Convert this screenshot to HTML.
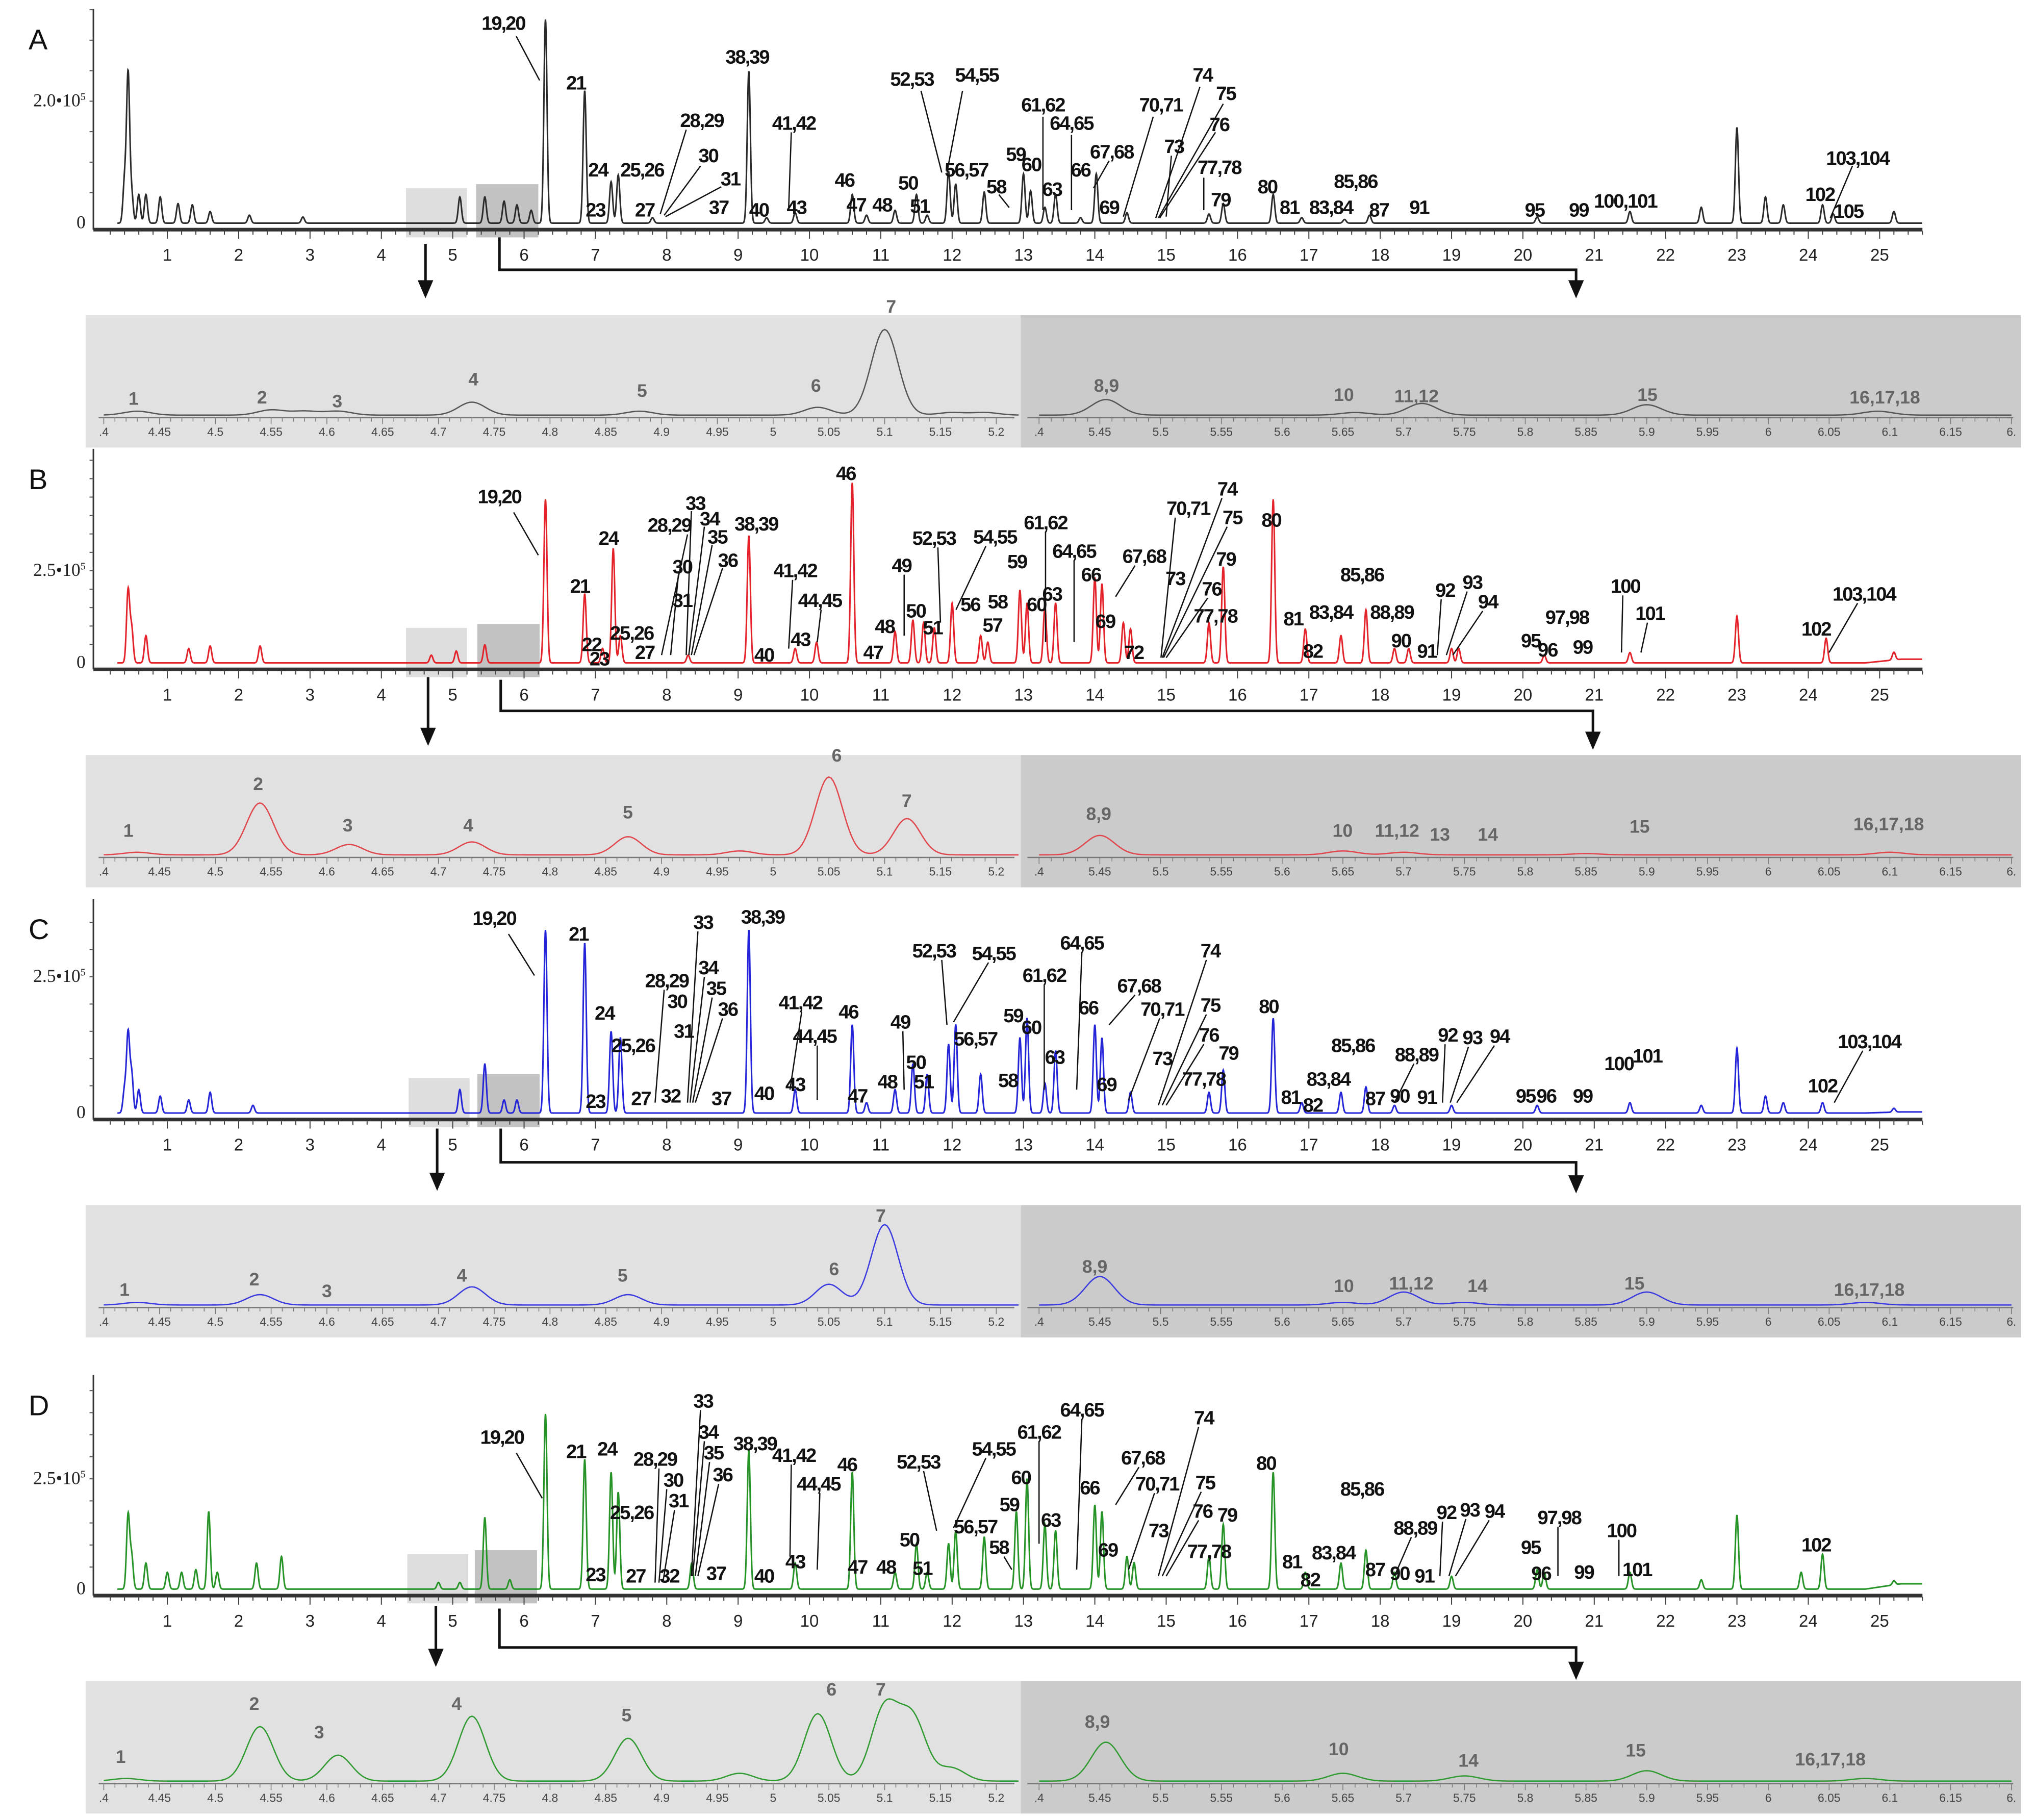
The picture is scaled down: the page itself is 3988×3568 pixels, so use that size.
<!DOCTYPE html>
<html><head><meta charset="utf-8"><style>
html,body{margin:0;padding:0;background:#fff;}
svg{display:block;}
.lbl{font-family:"Liberation Sans",sans-serif;font-weight:bold;font-size:15px;fill:#111;letter-spacing:-0.8px;}
.ilbl{font-family:"Liberation Sans",sans-serif;font-size:14px;fill:#666;font-weight:bold;}
.tick{font-family:"Liberation Sans",sans-serif;font-size:13px;fill:#222;}
.itick{font-family:"Liberation Sans",sans-serif;font-size:9px;fill:#444;}
.ylab{font-family:"Liberation Serif",serif;font-size:14px;fill:#222;}
.plet{font-family:"Liberation Sans",sans-serif;font-size:22px;fill:#111;}
</style></head><body>
<svg id="fig" width="3988" height="3568" viewBox="0 0 1568 1403" preserveAspectRatio="none" xmlns="http://www.w3.org/2000/svg"></svg>
<script>
// ---------- data: main chromatograms (time min, intensity x10^5) ----------
const aTimes=[0.4,0.45,0.5,0.6,0.7,0.9,1.15,1.35,1.6,2.15,2.9,5.1,5.45,5.72,5.9,6.1,6.3,6.85,7.22,7.32,7.8,9.15,9.4,9.8,10.6,10.8,11.2,11.5,11.65,11.95,12.05,12.45,13.0,13.1,13.3,13.45,13.8,14.02,14.45,15.6,15.8,16.5,16.9,17.5,17.85,20.2,21.5,22.5,23.0,23.4,23.65,24.2,24.35,25.2];
const aHeights=[0.68,2.43,0.47,0.47,0.47,0.43,0.32,0.3,0.19,0.13,0.1,0.43,0.43,0.36,0.3,0.21,3.34,2.17,0.68,0.79,0.09,2.49,0.09,0.17,0.47,0.13,0.21,0.47,0.13,0.85,0.64,0.51,0.81,0.53,0.26,0.47,0.09,0.81,0.17,0.15,0.32,0.47,0.09,0.06,0.13,0.1,0.19,0.26,1.57,0.43,0.3,0.3,0.15,0.19];
const bTimes=[0.45,0.5,0.7,1.3,1.6,2.3,4.7,5.05,5.45,6.3,6.85,7.1,7.25,7.35,8.3,9.15,9.8,10.1,10.6,11.2,11.45,11.6,11.75,12.0,12.4,12.5,12.95,13.05,13.3,13.45,14.0,14.1,14.4,14.5,15.6,15.8,16.5,16.95,17.45,17.8,18.2,18.4,19.0,19.1,20.3,21.5,23.0,24.25,25.2];
const bHeights=[1.97,0.92,0.74,0.39,0.46,0.46,0.21,0.32,0.49,4.44,1.87,0.39,3.1,0.74,0.21,3.45,0.39,0.56,4.89,0.85,1.16,1.09,0.95,1.62,0.74,0.56,1.97,1.62,1.51,1.62,2.32,2.15,1.09,0.92,1.09,2.61,4.44,0.92,0.74,1.44,0.39,0.39,0.39,0.39,0.21,0.28,1.27,0.67,0.21];
const cTimes=[0.4,0.45,0.5,0.6,0.9,1.3,1.6,2.2,5.1,5.45,5.72,5.9,6.3,6.85,7.22,7.35,9.15,9.8,10.6,10.8,11.2,11.45,11.65,11.95,12.05,12.4,12.95,13.05,13.3,13.45,14.0,14.1,14.5,15.6,15.8,16.5,16.9,17.45,17.8,18.2,19.0,20.2,21.5,22.5,23.0,23.4,23.65,24.2,25.2];
const cHeights=[0.43,1.45,0.71,0.43,0.31,0.24,0.38,0.14,0.43,0.9,0.24,0.24,3.36,3.12,1.5,1.38,3.36,0.43,1.62,0.19,0.43,0.9,0.71,1.26,1.62,0.71,1.38,1.74,0.55,1.14,1.62,1.38,0.38,0.38,0.79,1.74,0.19,0.38,0.48,0.14,0.14,0.14,0.19,0.14,1.19,0.31,0.19,0.19,0.07];
const dTimes=[0.45,0.5,0.7,1.0,1.2,1.4,1.58,1.7,2.25,2.6,4.8,5.1,5.45,5.8,6.3,6.85,7.22,7.32,8.35,9.15,9.8,10.6,11.2,11.5,11.65,11.95,12.05,12.45,12.9,13.05,13.3,13.45,14.0,14.1,14.45,14.55,15.6,15.8,16.5,16.95,17.45,17.8,18.2,19.0,20.2,20.3,21.5,22.5,23.0,23.9,24.2,25.2];
const dHeights=[1.68,0.74,0.59,0.38,0.38,0.44,1.76,0.38,0.59,0.74,0.15,0.15,1.62,0.21,3.97,2.94,2.65,2.2,0.59,3.15,0.59,2.65,0.38,1.03,0.38,1.03,1.32,1.18,1.76,2.5,1.47,1.32,1.91,1.76,0.74,0.6,0.74,1.47,2.65,0.38,0.59,0.88,0.38,0.29,0.44,0.38,0.38,0.21,1.68,0.38,0.79,0.09];
const xTickLabels=["1","2","3","4","5","6","7","8","9","10","11","12","13","14","15","16","17","18","19","20","21","22","23","24","25"];
// ---------- data: zoom insets (time min, relative intensity) ----------
const aInsetTimes=[4.43,4.55,4.58,4.61,4.73,4.88,5.04,5.1,5.16,5.19,5.455,5.66,5.715,5.9,6.09];
const aInsetHeights=[3,4,3,3,10,3,6,66,2,2,12,2,9,8,3];
const bInsetTimes=[4.43,4.54,4.62,4.73,4.87,4.97,5.05,5.12,5.45,5.65,5.7,5.85,6.1];
const bInsetHeights=[2,40,8,10,14,3,60,28,15,3,2,1,2];
const cInsetTimes=[4.43,4.54,4.73,4.87,5.05,5.1,5.45,5.65,5.7,5.75,5.9,6.08];
const cInsetHeights=[2,8,14,8,16,62,22,2,10,2,10,2];
const dInsetTimes=[4.42,4.54,4.61,4.73,4.87,4.97,5.04,5.1,5.125,5.16,5.455,5.65,5.75,5.9,6.08];
const dInsetHeights=[2,42,20,50,33,6,52,56,48,10,30,6,4,8,2];
const leftInsetTicks=[".4","4.45","4.5","4.55","4.6","4.65","4.7","4.75","4.8","4.85","4.9","4.95","5","5.05","5.1","5.15","5.2"];
const rightInsetTicks=[".4","5.45","5.5","5.55","5.6","5.65","5.7","5.75","5.8","5.85","5.9","5.95","6","6.05","6.1","6.15","6."];
// ---------- peak labels [text, x, y] ----------
const aLabels=[["19,20",388,18],["21",444,64],["24",461,131],["23",459,162],["25,26",495,131],["27",497,162],["28,29",541,93],["30",546,120],["31",563,138],["37",554,160],["38,39",576,44],["40",585,162],["41,42",612,95],["43",614,160],["46",651,139],["47",660,158],["48",680,158],["50",700,141],["51",709,159],["52,53",703,61],["54,55",753,58],["56,57",745,131],["58",768,144],["59",783,119],["60",795,127],["61,62",804,81],["63",811,146],["64,65",826,95],["66",833,131],["67,68",857,117],["69",855,160],["70,71",895,81],["73",905,113],["74",927,58],["75",945,72],["76",940,96],["77,78",940,129],["79",941,154],["80",977,144],["81",994,160],["83,84",1026,160],["85,86",1045,140],["87",1063,162],["91",1094,160],["95",1183,162],["99",1217,162],["100,101",1253,155],["102",1403,150],["103,104",1432,122],["105",1425,163]];
const bLabels=[["19,20",385,383],["21",447,452],["24",469,415],["22",456,497],["23",462,508],["25,26",487,488],["27",497,503],["28,29",516,405],["33",536,388],["34",547,400],["35",553,414],["30",526,437],["36",561,432],["31",526,463],["38,39",583,404],["40",589,505],["41,42",613,440],["43",617,493],["44,45",632,463],["46",652,365],["47",673,503],["48",682,483],["49",695,436],["50",706,471],["51",719,484],["52,53",720,415],["54,55",767,414],["56",748,466],["57",765,482],["58",769,464],["59",784,433],["60",799,466],["61,62",806,403],["63",811,458],["64,65",828,425],["66",841,443],["67,68",882,429],["69",852,479],["70,71",916,392],["72",874,503],["73",906,446],["74",946,377],["75",950,399],["76",934,454],["77,78",937,475],["79",945,431],["80",980,401],["81",997,477],["82",1012,502],["83,84",1026,472],["85,86",1050,443],["88,89",1073,472],["90",1080,494],["91",1100,502],["92",1114,455],["93",1135,449],["94",1147,464],["95",1180,494],["96",1193,501],["97,98",1208,476],["99",1220,499],["100",1253,452],["101",1272,473],["102",1400,485],["103,104",1437,458]];
const cLabels=[["19,20",381,708],["21",446,720],["24",466,781],["23",459,849],["25,26",488,806],["27",494,847],["32",517,845],["28,29",514,756],["30",522,772],["31",527,795],["33",542,711],["34",546,746],["35",552,762],["36",561,778],["37",556,847],["38,39",588,707],["40",589,843],["41,42",617,773],["43",613,836],["44,45",628,799],["46",654,780],["47",661,845],["48",684,834],["49",694,788],["50",706,819],["51",712,834],["52,53",720,733],["54,55",766,735],["56,57",752,801],["58",777,833],["59",781,783],["60",795,792],["61,62",805,752],["63",813,815],["64,65",834,727],["66",839,777],["67,68",878,760],["69",853,836],["70,71",896,778],["73",896,816],["74",933,733],["75",933,775],["76",932,798],["77,78",928,832],["79",947,812],["80",978,776],["81",995,846],["82",1012,852],["83,84",1024,832],["85,86",1043,806],["87",1060,847],["88,89",1092,813],["90",1079,845],["91",1100,846],["92",1116,798],["93",1135,800],["94",1156,799],["95",1176,845],["96",1192,845],["99",1220,845],["100",1248,820],["101",1270,814],["102",1405,837],["103,104",1441,803]];
const dLabels=[["19,20",387,1108],["21",444,1119],["24",468,1117],["28,29",505,1125],["30",519,1141],["31",523,1157],["25,26",487,1166],["23",459,1214],["27",490,1215],["32",516,1215],["33",542,1080],["34",546,1104],["35",550,1120],["36",557,1137],["37",552,1213],["38,39",582,1113],["40",589,1215],["41,42",612,1122],["43",613,1204],["44,45",631,1144],["46",653,1129],["47",661,1208],["48",683,1208],["50",701,1187],["51",711,1209],["52,53",708,1127],["54,55",766,1117],["56,57",752,1177],["58",770,1193],["59",778,1160],["60",787,1139],["61,62",801,1104],["63",810,1172],["64,65",834,1087],["66",840,1147],["67,68",881,1124],["69",854,1195],["70,71",892,1144],["73",893,1180],["74",928,1093],["75",929,1143],["76",927,1165],["77,78",932,1196],["79",946,1168],["80",976,1128],["81",996,1204],["82",1010,1218],["83,84",1028,1197],["85,86",1050,1148],["87",1060,1210],["88,89",1091,1178],["90",1079,1213],["91",1098,1215],["92",1115,1166],["93",1133,1164],["94",1152,1165],["95",1180,1193],["96",1188,1213],["97,98",1202,1170],["99",1221,1212],["100",1250,1180],["101",1262,1210],["102",1400,1191]];
const aInsetLabels=[["1",103,307],["2",202,306],["3",260,309],["4",365,292],["5",495,301],["6",629,297],["7",687,236],["8,9",853,297],["10",1036,304],["11,12",1092,305],["15",1270,304],["16,17,18",1453,306]];
const bInsetLabels=[["1",99,640],["2",199,604],["3",268,636],["4",361,636],["5",484,626],["6",645,582],["7",699,617],["8,9",847,627],["10",1035,640],["11,12",1077,640],["13",1110,643],["14",1147,643],["15",1264,637],["16,17,18",1456,635]];
const cInsetLabels=[["1",96,994],["2",196,986],["3",252,995],["4",356,983],["5",480,983],["6",643,978],["7",679,937],["8,9",844,976],["10",1036,991],["11,12",1088,989],["14",1139,991],["15",1260,989],["16,17,18",1441,994]];
const dInsetLabels=[["1",93,1354],["2",196,1313],["3",246,1335],["4",352,1313],["5",483,1322],["6",641,1302],["7",679,1302],["8,9",846,1327],["10",1032,1348],["14",1132,1357],["15",1261,1349],["16,17,18",1411,1356]];
// leader lines [x1,y1,x2,y2]
const aLeaders=[[398,28,416,62],[529,100,509,165],[540,128,512,166],[556,144,513,167],[610,102,608,160],[710,70,726,133],[742,70,730,133],[770,150,778,160],[804,90,804,162],[826,104,826,162],[855,124,843,145],[889,90,866,167],[903,120,899,167],[925,67,891,168],[943,80,893,168],[937,102,894,168],[928,137,928,162],[1428,128,1411,168]];
const bLeaders=[[396,395,415,428],[530,412,510,505],[533,394,529,505],[543,406,531,505],[549,420,533,505],[557,438,535,505],[523,443,517,505],[611,447,608,500],[633,470,630,495],[697,443,697,490],[723,422,725,480],[760,421,737,470],[806,410,806,495],[828,432,828,495],[875,436,860,460],[906,399,895,507],[942,384,896,507],[946,406,897,507],[931,461,899,507],[1111,462,1108,505],[1131,456,1115,505],[1143,471,1120,505],[1251,459,1250,503],[1270,480,1265,503],[1432,465,1410,503]];
const cLeaders=[[392,720,412,752],[512,763,505,850],[538,718,530,850],[543,753,532,850],[549,769,534,850],[557,785,536,850],[618,780,609,840],[630,806,630,848],[696,795,697,840],[726,740,730,790],[762,742,735,788],[805,759,805,840],[834,734,830,840],[875,767,855,790],[894,785,870,848],[930,740,893,852],[930,782,896,852],[928,805,899,852],[1090,820,1075,850],[1114,805,1112,850],[1132,807,1118,850],[1152,806,1123,850],[1436,810,1414,850]];
const dLeaders=[[398,1120,418,1155],[508,1132,505,1220],[514,1148,508,1220],[520,1164,511,1220],[540,1087,533,1215],[543,1111,534,1215],[547,1127,536,1215],[554,1144,538,1215],[610,1129,609,1200],[632,1151,630,1210],[712,1134,722,1180],[760,1124,735,1178],[774,1200,780,1210],[801,1111,801,1190],[834,1094,830,1210],[878,1131,860,1160],[890,1151,870,1210],[924,1100,893,1215],[926,1150,896,1215],[924,1172,899,1215],[1088,1185,1075,1215],[1112,1173,1110,1215],[1130,1171,1117,1215],[1148,1172,1122,1215],[1201,1177,1201,1215],[1248,1187,1248,1215]];

// ---------- drawing ----------
const NS="http://www.w3.org/2000/svg";
const svg=document.getElementById('fig');
function mk(tag,attrs,parent){const e=document.createElementNS(NS,tag);for(const k in attrs)e.setAttribute(k,attrs[k]);(parent||svg).appendChild(e);return e;}
const X0=74, XS=55;
function xMain(t){return X0+XS*t;}
function xInL(t){return 80+(t-4.4)*860;}
function xInR(t){return 801+(t-5.4)*937;}
function gauss(times,hts,t,s){let v=0;for(let i=0;i<times.length;i++){const d=(t-times[i])/s;if(Math.abs(d)<6)v+=hts[i]*Math.exp(-0.5*d*d);}return v;}

const panels=[
 {id:'a',letter:'A',off:0,color:'#2a2a2a',icolor:'#555',times:aTimes,hts:aHeights,scale:47,yt:'2.0•10',yv:2.0,labels:aLabels,leaders:aLeaders,it:aInsetTimes,ih:aInsetHeights,il:aInsetLabels,hump:0},
 {id:'b',letter:'B',off:339,color:'#e4222a',icolor:'#e0464c',times:bTimes,hts:bHeights,scale:28.4,yt:'2.5•10',yv:2.5,labels:bLabels,leaders:bLeaders,it:bInsetTimes,ih:bInsetHeights,il:bInsetLabels,hump:0.1},
 {id:'c',letter:'C',off:686,color:'#2424d8',icolor:'#3a3ae0',times:cTimes,hts:cHeights,scale:42,yt:'2.5•10',yv:2.5,labels:cLabels,leaders:cLeaders,it:cInsetTimes,ih:cInsetHeights,il:cInsetLabels,hump:0.02},
 {id:'d',letter:'D',off:1053,color:'#259325',icolor:'#2f9a2f',times:dTimes,hts:dHeights,scale:34,yt:'2.5•10',yv:2.5,labels:dLabels,leaders:dLeaders,it:dInsetTimes,ih:dInsetHeights,il:dInsetLabels,hump:0.12}
];
const boxX={a:[313,367],b:[313,368],c:[315,368],d:[314,366]};
const arrowSpec={a:[328,188,230,385,183,208,1215,230],b:[330,522,575,386,524,548,1228,578],c:[337,870,918,386,870,896,1215,920],d:[336,1238,1285,385,1240,1270,1215,1295]};

panels.forEach(p=>{
 const g=mk('g',{});
 
 
 const base=172+p.off;
 const L=mk('text',{x:22,y:38+p.off,class:'plet'},g);L.textContent=p.letter;
 
 
 const bx=boxX[p.id];
 const b1=mk('rect',{x:bx[0],y:base-27,width:47,height:38,fill:'#d0d0d0','fill-opacity':0.7},g);
 
 
 const b2=mk('rect',{x:bx[1],y:base-30,width:48,height:41,fill:'#a8a8a8','fill-opacity':0.7},g);
 
 
 const ytop=base-165;
 const ya=mk('line',{x1:72,y1:ytop,x2:72,y2:base+5,stroke:'#333','stroke-width':1.2},g);
 
 
 for(let v=0.5;base-v*p.scale>ytop;v+=0.5){mk('line',{x1:69,y1:base-v*p.scale,x2:72,y2:base-v*p.scale,stroke:'#555','stroke-width':0.8},g);}
 const yt=mk('text',{x:66,y:base-p.yv*p.scale+4,class:'ylab','text-anchor':'end'},g);
 yt.textContent=p.yt; const sup=mk('tspan',{dy:-5,'font-size':8},yt); sup.textContent='5';
 
 
 const y0=mk('text',{x:66,y:base+4,class:'ylab','text-anchor':'end'},g);y0.textContent='0';
 
 
 const xa=mk('line',{x1:72,y1:base+5,x2:1482,y2:base+5,stroke:'#333','stroke-width':2.8},g);
 
 
 for(let t=0.2;t<25.6;t+=0.2){const big=Math.abs(t-Math.round(t))<0.01;mk('line',{x1:xMain(t),y1:base+6,x2:xMain(t),y2:base+(big?12:9),stroke:'#444','stroke-width':0.8},g);}
 xTickLabels.forEach((s,i)=>{const t=mk('text',{x:xMain(+s),y:base+29,class:'tick','text-anchor':'middle'},g);t.textContent=s;
  
  });
 let d='';
 for(let t=0.3;t<=25.6;t+=0.004){let v=gauss(p.times,p.hts,t,0.022);if(p.hump&&t>24.8)v+=p.hump*Math.min(1,(t-24.8)/0.5);d+=(d?'L':'M')+xMain(t).toFixed(2)+','+(base-v*p.scale).toFixed(2);}
 const tr=mk('path',{d:d,fill:'none',stroke:p.color,'stroke-width':1.2},g);
 
 
 p.leaders.forEach(l=>{const e=mk('line',{x1:l[0],y1:l[1],x2:l[2],y2:l[3],stroke:'#111','stroke-width':1},g);
  
  });
 p.labels.forEach(l=>{const e=mk('text',{x:l[1],y:l[2]+5,class:'lbl','text-anchor':'middle'},g);e.textContent=l[0];
  
  });
 const a=arrowSpec[p.id];
 mk('line',{x1:a[0],y1:a[1],x2:a[0],y2:a[2]-10,stroke:'#111','stroke-width':2},g);
 const ah1=mk('polygon',{points:`${a[0]-6},${a[2]-14} ${a[0]+6},${a[2]-14} ${a[0]},${a[2]}`,fill:'#111'},g);
 
 
 const br=mk('polyline',{points:`${a[3]},${a[4]} ${a[3]},${a[5]} ${a[6]},${a[5]} ${a[6]},${a[7]-10}`,fill:'none',stroke:'#111','stroke-width':2},g);
 
 
 mk('polygon',{points:`${a[6]-6},${a[7]-14} ${a[6]+6},${a[7]-14} ${a[6]},${a[7]}`,fill:'#111'},g);
 const itop=243+p.off, ibase=320+p.off;
 const r1=mk('rect',{x:66,y:itop,width:721,height:102,fill:'#e1e1e1'},g);
 
 
 const r2=mk('rect',{x:787,y:itop,width:771,height:102,fill:'#cbcbcb'},g);
 
 
 mk('line',{x1:76,y1:ibase+2,x2:782,y2:ibase+2,stroke:'#777','stroke-width':1},g);
 mk('line',{x1:792,y1:ibase+2,x2:1552,y2:ibase+2,stroke:'#777','stroke-width':1},g);
 for(let i=0;i<=80;i++){const t=4.4+i*0.01;mk('line',{x1:xInL(t),y1:ibase+2,x2:xInL(t),y2:ibase+(i%5==0?7:5),stroke:'#777','stroke-width':0.6},g);
   const t2=5.4+i*0.01;mk('line',{x1:xInR(t2),y1:ibase+2,x2:xInR(t2),y2:ibase+(i%5==0?7:5),stroke:'#777','stroke-width':0.6},g);}
 leftInsetTicks.forEach((s,i)=>{const e=mk('text',{x:xInL(4.4+i*0.05),y:ibase+16,class:'itick','text-anchor':'middle'},g);e.textContent=s;
  
  });
 rightInsetTicks.forEach((s,i)=>{const e=mk('text',{x:xInR(5.4+i*0.05),y:ibase+16,class:'itick','text-anchor':'middle'},g);e.textContent=s;
  
  });
 let dl='',dr='';
 for(let t=4.4;t<=5.22;t+=0.002){const v=gauss(p.it,p.ih,t,0.012);dl+=(dl?'L':'M')+xInL(t).toFixed(2)+','+(ibase-v).toFixed(2);}
 for(let t=5.4;t<=6.2;t+=0.002){const v=gauss(p.it,p.ih,t,0.012);dr+=(dr?'L':'M')+xInR(t).toFixed(2)+','+(ibase-v).toFixed(2);}
 const il=mk('path',{d:dl,fill:'none',stroke:p.icolor,'stroke-width':1},g);
 
 
 const ir=mk('path',{d:dr,fill:'none',stroke:p.icolor,'stroke-width':1},g);
 
 
 p.il.forEach(l=>{const e=mk('text',{x:l[1],y:l[2]+5,class:'ilbl','text-anchor':'middle'},g);e.textContent=l[0];
  
  });
});
</script>
</body></html>
